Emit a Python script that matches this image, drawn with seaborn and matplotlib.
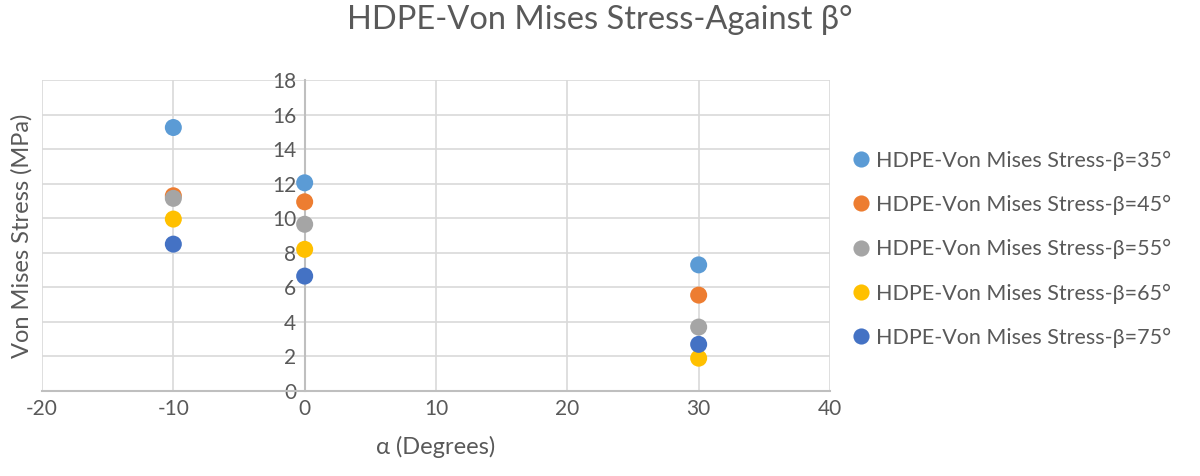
import numpy as np
import pandas as pd
import matplotlib.pyplot as plt
import seaborn as sns

# values
alpha = [-10, 0, 30]
beta_labels = ["HDPE-Von Mises Stress-β=35°", "HDPE-Von Mises Stress-β=45°",
               "HDPE-Von Mises Stress-β=55°", "HDPE-Von Mises Stress-β=65°",
               "HDPE-Von Mises Stress-β=75°"]
stress_b35 = [15.25, 12.05, 7.3]
stress_b45 = [11.3, 10.95, 5.55]
stress_b55 = [11.15, 9.65, 3.7]
stress_b65 = [9.95, 8.2, 1.9]
stress_b75 = [8.5, 6.65, 2.7]
colors = ["#5B9BD5", "#ED7D31", "#A5A5A5", "#FFC000", "#4472C4"]

rows = []
for lab, vals in zip(beta_labels, [stress_b35, stress_b45, stress_b55, stress_b65, stress_b75]):
    for a, v in zip(alpha, vals):
        rows.append({"alpha": a, "stress": v, "series": lab})
df = pd.DataFrame(rows)

sns.set_style("white")
plt.rcParams['font.family'] = ['Lato', 'DejaVu Sans']
plt.rcParams['axes.unicode_minus'] = False

fig = plt.figure(figsize=(12, 4.76), dpi=100)
ax = fig.add_axes([42 / 1200, 1 - 391 / 476, (830 - 42) / 1200, (391 - 80) / 476])

sns.scatterplot(data=df, x="alpha", y="stress", hue="series", palette=colors,
                s=150, edgecolor="none", ax=ax, zorder=3)

ax.set_xlim(-20, 40)
ax.set_ylim(0, 18)
ax.set_xticks(np.arange(-20, 41, 10))
ax.set_yticks(np.arange(0, 19, 2))
ax.grid(True, color="#D9D9D9", linewidth=1.2)
ax.set_axisbelow(True)

for s in ["top", "right"]:
    ax.spines[s].set_visible(False)
ax.spines["left"].set_position(("data", 0))
ax.spines["left"].set_color("#BFBFBF")
ax.spines["left"].set_linewidth(1.5)
ax.spines["left"].set_zorder(2)
ax.spines["bottom"].set_color("#BFBFBF")
ax.spines["bottom"].set_linewidth(1.5)
ax.tick_params(length=0, labelsize=15, colors="#595959", pad=6)

ax.set_xlabel("α (Degrees)", fontsize=17, color="#595959", labelpad=12)
ax.set_ylabel("Von Mises Stress (MPa)", fontsize=17, color="#595959")
ax.yaxis.set_label_coords(-0.012, 0.5)
fig.suptitle("HDPE-Von Mises Stress-Against β°", fontsize=23.5, color="#595959", y=0.99)

leg = ax.legend(loc="center left", bbox_to_anchor=(1.028, 0.456), frameon=False,
                fontsize=15.5, labelspacing=1.12, handlelength=0.8, handletextpad=0.3,
                borderaxespad=0, borderpad=0, markerscale=0.95)
for t in leg.get_texts():
    t.set_color("#595959")

fig.savefig("out.png", dpi=100)
plt.close()
